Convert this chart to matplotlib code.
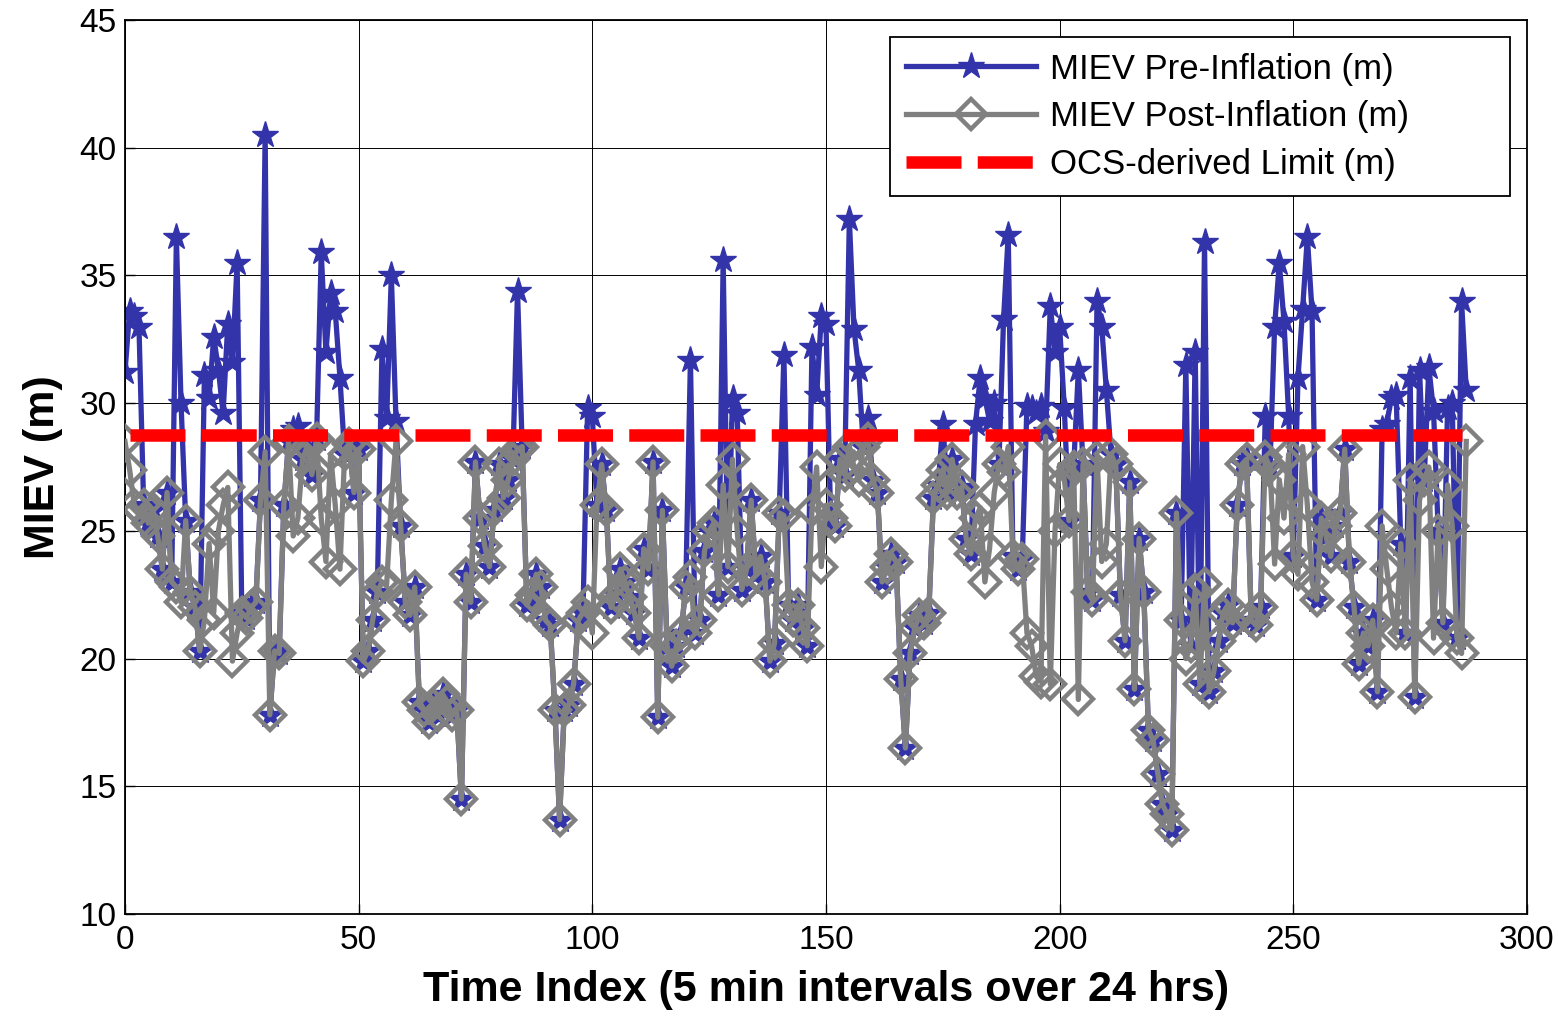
import numpy as np
import matplotlib
matplotlib.use("Agg")
import matplotlib.pyplot as plt

plt.rcParams['font.family'] = ['Liberation Sans', 'DejaVu Sans']

# MIEV before inflation (m), one value per 5 min slot
pre_inflation = [
    31.2, 33.6, 33.4, 33.0, 26.0, 25.3, 25.8, 24.8, 23.5, 26.5,
    23.0, 36.5, 30.0, 25.4, 22.6, 22.0, 20.3, 31.1, 30.2, 32.6,
    31.3, 29.6, 33.1, 31.6, 35.5, 21.8, 21.6, 22.0, 22.2, 26.2,
    40.5, 17.8, 20.3, 20.2, 26.0, 28.5, 29.0, 29.1, 27.8, 28.3,
    27.2, 28.6, 35.9, 32.0, 34.3, 33.6, 31.0, 28.0, 28.4, 26.5,
    28.2, 19.9, 20.3, 21.5, 22.6, 32.1, 29.4, 35.0, 29.3, 25.2,
    22.2, 21.7, 22.8, 18.3, 18.0, 17.5, 18.2, 17.8, 18.6, 18.3,
    17.8, 18.0, 14.5, 23.3, 22.2, 27.7, 25.5, 24.4, 23.6, 25.8,
    27.6, 26.3, 27.0, 27.8, 34.4, 28.3, 22.1, 22.5, 23.3, 22.8,
    21.5, 21.3, 18.0, 13.7, 18.0, 18.2, 19.0, 21.5, 21.8, 29.8,
    29.5, 26.0, 27.6, 25.8, 22.0, 22.5, 23.5, 23.0, 22.4, 21.8,
    20.8, 24.3, 23.5, 27.7, 17.7, 25.8, 20.5, 19.7, 20.5, 21.0,
    22.8, 31.7, 21.0, 21.5, 24.2, 25.0, 25.3, 22.5, 35.6, 23.6,
    30.2, 29.6, 22.7, 23.5, 26.2, 23.3, 24.0, 23.0, 19.9, 20.6,
    25.7, 31.9, 22.1, 21.5, 22.1, 21.2, 20.5, 32.2, 30.3, 33.4,
    33.1, 25.5, 25.2, 27.8, 27.2, 37.2, 32.9, 31.3, 28.3, 29.4,
    27.0, 26.5, 23.0, 23.6, 24.1, 23.8, 19.2, 16.5, 20.2, 21.2,
    21.7, 21.4, 21.8, 26.3, 26.8, 29.2, 26.5, 27.8, 26.5, 26.7,
    24.7, 24.1, 29.2, 31.0, 30.2, 29.3, 30.0, 27.6, 33.3, 36.6,
    24.0, 23.5, 23.9, 29.9, 29.8, 29.6, 29.9, 28.9, 33.8, 32.0,
    33.0, 29.8, 25.4, 27.5, 31.3, 27.6, 22.6, 22.3, 34.0, 33.0,
    30.5, 28.0, 27.6, 22.5, 20.7, 26.9, 18.8, 24.7, 22.6, 17.2,
    16.8, 15.5, 14.3, 13.9, 13.3, 25.7, 21.5, 31.5, 20.5, 32.0,
    19.0, 36.3, 18.7, 19.5, 20.7, 21.8, 22.1, 21.4, 26.0, 27.6,
    27.8, 21.5, 21.3, 22.0, 29.5, 27.5, 33.0, 35.5, 33.2, 29.5,
    24.0, 31.0, 33.7, 36.5, 33.6, 22.3, 25.5, 24.8, 24.0, 25.2,
    25.7, 28.2, 23.8, 22.0, 19.8, 21.0, 20.5, 21.5, 18.7, 29.0,
    29.2, 30.2, 30.3, 24.5, 21.0, 31.0, 18.5, 31.3, 27.0, 31.4,
    29.7, 25.0, 21.4, 29.8, 30.0, 20.8, 34.0, 30.5,
]

# MIEV after inflation (m)
post_inflation = [
    28.5, 27.4, 26.0, 25.8, 26.0, 25.3, 25.8, 24.8, 23.5, 26.5,
    23.0, 22.8, 22.2, 25.4, 22.6, 22.0, 20.3, 21.5, 24.5, 21.8,
    25.0, 26.0, 26.7, 19.9, 21.0, 21.8, 21.6, 22.0, 22.2, 26.2,
    28.1, 17.8, 20.3, 20.2, 26.0, 28.5, 24.8, 25.5, 27.8, 28.3,
    27.2, 28.6, 25.5, 23.8, 28.0, 26.0, 23.5, 28.0, 28.4, 26.5,
    28.2, 19.9, 20.3, 21.5, 22.6, 23.0, 22.9, 26.2, 28.5, 25.2,
    22.2, 21.7, 22.8, 18.3, 18.0, 17.5, 18.2, 17.8, 18.6, 18.3,
    17.8, 18.0, 14.5, 23.3, 22.2, 27.7, 25.5, 24.4, 23.6, 25.8,
    27.6, 26.3, 27.0, 27.8, 28.2, 28.3, 22.1, 22.5, 23.3, 22.8,
    21.5, 21.3, 18.0, 13.7, 18.0, 18.2, 19.0, 21.5, 21.8, 22.2,
    21.0, 26.0, 27.6, 25.8, 22.0, 22.5, 23.5, 23.0, 22.4, 21.8,
    20.8, 24.3, 23.5, 27.7, 17.7, 25.8, 20.5, 19.7, 20.5, 21.0,
    22.8, 23.2, 21.0, 21.5, 24.2, 25.0, 25.3, 22.5, 26.8, 23.6,
    27.8, 25.0, 22.7, 23.5, 26.2, 23.3, 24.0, 23.0, 19.9, 20.6,
    25.7, 25.6, 22.1, 21.5, 22.1, 21.2, 20.5, 25.8, 27.5, 23.6,
    26.0, 25.5, 25.2, 27.8, 27.2, 28.3, 27.5, 27.0, 28.3, 28.6,
    27.0, 26.5, 23.0, 23.6, 24.1, 23.8, 19.2, 16.5, 20.2, 21.2,
    21.7, 21.4, 21.8, 26.3, 26.8, 27.4, 26.5, 27.8, 26.5, 26.7,
    24.7, 24.1, 25.5, 25.9, 23.0, 24.3, 26.5, 27.6, 27.3, 28.3,
    24.0, 23.5, 23.9, 21.0, 20.5, 19.3, 19.1, 28.7, 19.0, 25.0,
    27.6, 27.0, 25.4, 27.5, 18.4, 27.6, 22.6, 22.3, 27.9, 23.8,
    24.5, 28.0, 27.6, 22.5, 20.7, 26.9, 18.8, 24.7, 22.6, 17.2,
    16.8, 15.5, 14.3, 13.9, 13.3, 25.7, 21.5, 20.0, 20.5, 22.7,
    19.0, 22.9, 18.7, 19.5, 20.7, 21.8, 22.1, 21.4, 26.0, 27.6,
    27.8, 21.5, 21.3, 22.0, 27.9, 27.5, 23.7, 27.0, 25.5, 28.0,
    24.0, 23.3, 28.3, 26.0, 23.0, 22.3, 25.5, 24.8, 24.0, 25.2,
    25.7, 28.2, 23.8, 22.0, 19.8, 21.0, 20.5, 21.5, 18.7, 25.2,
    23.5, 22.0, 21.0, 24.5, 21.0, 27.0, 18.5, 26.2, 27.0, 27.5,
    20.8, 25.0, 21.4, 26.8, 25.2, 20.8, 20.2, 28.5,
]

ocs_limit = 28.75
limit_span = [1, 286]

x_ticks = [0, 50, 100, 150, 200, 250, 300]
y_ticks = [10, 15, 20, 25, 30, 35, 40, 45]

x = np.arange(len(pre_inflation))

fig = plt.figure(figsize=(15.58, 10.24), dpi=100)
ax = fig.add_axes([0.0802, 0.1074, 0.8999, 0.8731])

ax.plot(x, pre_inflation, color='#3333AA', lw=3.8, marker='*',
        ms=20, mec='#3333AA', mfc='#3333AA', label='MIEV Pre-Inflation (m)', zorder=2)
ax.plot(x, post_inflation, color='#808080', lw=3.8, marker='D',
        ms=15, mec='#808080', mfc='none', mew=3.2, label='MIEV Post-Inflation (m)', zorder=3)
ax.plot(limit_span, [ocs_limit, ocs_limit], color='red', lw=9,
        dashes=(4.4, 1.3), label='OCS-derived Limit (m)', zorder=4)

ax.set_xlim(0, 300)
ax.set_ylim(10, 45)
ax.set_xticks(x_ticks)
ax.set_yticks(y_ticks)
ax.tick_params(direction='in', labelsize=24, length=7, width=1, pad=8)
ax.tick_params(axis='y', pad=6)
ax.grid(True, color='black', lw=0.7)
ax.set_axisbelow(True)
for spine in ax.spines.values():
    spine.set_linewidth(1.3)

ax.set_xlabel('Time Index (5 min intervals over 24 hrs)', fontsize=31,
              fontweight='bold', labelpad=10)
ax.set_ylabel('MIEV (m)', fontsize=31, fontweight='bold', labelpad=12)

# wide legend box like the MATLAB one (extra room on the right)
leg = ax.legend(loc='upper left', bbox_to_anchor=(0.5456, 0.0, 0.4423, 0.981),
                mode='expand', fontsize=25, frameon=True, fancybox=False,
                edgecolor='black', framealpha=1, handlelength=3.75,
                handletextpad=0.4, borderaxespad=0.0, labelspacing=0.42,
                borderpad=0.45)
leg.get_frame().set_linewidth(1.3)

plt.savefig('out.png', dpi=100)
